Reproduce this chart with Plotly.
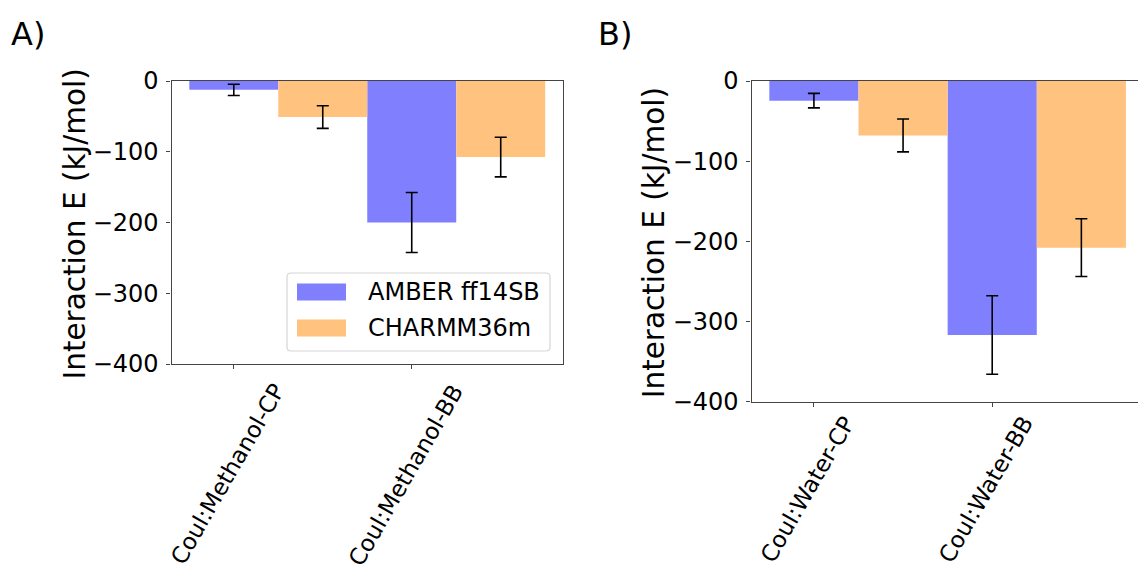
import plotly.graph_objects as go

W, H = 1138, 570

# Interaction energies (kJ/mol) and standard deviations
methanol_groups = ["Coul:Methanol-CP", "Coul:Methanol-BB"]
methanol_amber = [-12.5, -200.0]
methanol_amber_err = [8.0, 42.5]
methanol_charmm = [-51.0, -107.5]
methanol_charmm_err = [16.0, 28.0]

water_groups = ["Coul:Water-CP", "Coul:Water-BB"]
water_amber = [-24.5, -317.0]
water_amber_err = [9.0, 49.0]
water_charmm = [-68.0, -208.0]
water_charmm_err = [20.5, 36.0]

series_names = ["AMBER ff14SB", "CHARMM36m"]
y_ticks = [0, -100, -200, -300, -400]

BLUE = "#8080ff"
ORANGE = "#ffc27f"
FONT = "DejaVu Sans"
BAR_W = 0.5


def px(x):
    return x / W


def py(y):
    return 1 - y / H


fig = go.Figure()


def add_panel(groups, amber, amber_err, charmm, charmm_err, xa, ya):
    pos = list(range(len(groups)))
    fig.add_trace(go.Bar(
        x=pos, y=amber, width=BAR_W, name=series_names[0],
        marker=dict(color=BLUE, line=dict(width=0)),
        error_y=dict(type="data", array=amber_err, color="black", thickness=1.6, width=6),
        xaxis=xa, yaxis=ya, showlegend=False,
    ))
    fig.add_trace(go.Bar(
        x=[p + BAR_W for p in pos], y=charmm, width=BAR_W, name=series_names[1],
        marker=dict(color=ORANGE, line=dict(width=0)),
        error_y=dict(type="data", array=charmm_err, color="black", thickness=1.6, width=6),
        xaxis=xa, yaxis=ya, showlegend=False,
    ))


add_panel(methanol_groups, methanol_amber, methanol_amber_err,
          methanol_charmm, methanol_charmm_err, "x", "y")
add_panel(water_groups, water_amber, water_amber_err,
          water_charmm, water_charmm_err, "x2", "y2")

axis_line = dict(showline=True, linecolor="#444", linewidth=1.3, ticks="outside",
                 ticklen=4, tickwidth=1.3, tickcolor="#444", showgrid=False,
                 zeroline=False, tickfont=dict(family=FONT, size=24, color="black"))

# panel geometry in pixels
A_left, A_right, A_top, A_bottom = 171.5, 563.0, 81.0, 364.0
B_left, B_right, B_top, B_bottom = 751.5, 1138.0, 81.0, 401.5
unit_px = 178.3
B_xmax = (B_right - B_left) / unit_px - 0.35

ytext = ["0" if v == 0 else "\u2212" + str(-v) for v in y_ticks]

fig.update_layout(
    width=W, height=H, margin=dict(l=0, r=0, t=0, b=0, autoexpand=False),
    paper_bgcolor="white", plot_bgcolor="white", barmode="overlay",
    font=dict(family=FONT, color="black"),
    xaxis=dict(domain=[px(A_left), px(A_right)], range=[-0.35, 1.85], anchor="y",
               tickvals=[0, 1], showticklabels=False, mirror=True, **axis_line),
    yaxis=dict(domain=[py(A_bottom), py(A_top)], range=[-400, 0], anchor="x",
               tickvals=y_ticks, ticktext=ytext, mirror=True, ticklabelstandoff=3, **axis_line),
    xaxis2=dict(domain=[px(B_left), 1.0], range=[-0.35, B_xmax], anchor="y2",
                tickvals=[0, 1], showticklabels=False, mirror=True, **axis_line),
    yaxis2=dict(domain=[py(B_bottom), py(B_top)], range=[-400, 0], anchor="x2",
                tickvals=y_ticks, ticktext=ytext, mirror=False, ticklabelstandoff=3, **axis_line),
)

ann = []
# panel tags
ann.append(dict(text="A)", x=px(9), y=py(34), xref="paper", yref="paper",
                xanchor="left", yanchor="middle", showarrow=False,
                font=dict(family=FONT, size=32)))
ann.append(dict(text="B)", x=px(596), y=py(34), xref="paper", yref="paper",
                xanchor="left", yanchor="middle", showarrow=False,
                font=dict(family=FONT, size=32)))
# y-axis titles
for cx, top, bot in [(74, A_top, A_bottom), (654, B_top, B_bottom)]:
    ann.append(dict(text="Interaction E (kJ/mol)", x=px(cx), y=py((top + bot) / 2 + 2),
                    xref="paper", yref="paper", xanchor="center", yanchor="middle",
                    textangle=-90, showarrow=False, font=dict(family=FONT, size=29.5)))
# rotated category labels
for groups, xr, bottom, ys in [(methanol_groups, "x", A_bottom, -9),
                               (water_groups, "x2", B_bottom, -4)]:
    for i, g in enumerate(groups):
        ann.append(dict(text=g, x=i, y=py(bottom + 5), xref=xr, yref="paper",
                        xanchor="center", yanchor="top", textangle=-60, showarrow=False,
                        xshift=-6, yshift=ys, borderpad=0, font=dict(family=FONT, size=23)))

# legend for panel A
L_x0, L_x1, L_y0, L_y1, r = 287, 550, 273, 351, 4
path = (f"M {px(L_x0 + r)},{py(L_y0)} L {px(L_x1 - r)},{py(L_y0)} "
        f"Q {px(L_x1)},{py(L_y0)} {px(L_x1)},{py(L_y0 + r)} "
        f"L {px(L_x1)},{py(L_y1 - r)} Q {px(L_x1)},{py(L_y1)} {px(L_x1 - r)},{py(L_y1)} "
        f"L {px(L_x0 + r)},{py(L_y1)} Q {px(L_x0)},{py(L_y1)} {px(L_x0)},{py(L_y1 - r)} "
        f"L {px(L_x0)},{py(L_y0 + r)} Q {px(L_x0)},{py(L_y0)} {px(L_x0 + r)},{py(L_y0)} Z")
shapes = [dict(type="path", path=path, xref="paper", yref="paper",
               fillcolor="rgba(255,255,255,0.85)", line=dict(color="#d6d6d6", width=1.2))]
for name, color, cy in [(series_names[0], BLUE, 292), (series_names[1], ORANGE, 328)]:
    shapes.append(dict(type="rect", xref="paper", yref="paper",
                       x0=px(297), x1=px(346), y0=py(cy - 8.5), y1=py(cy + 8.5),
                       fillcolor=color, line=dict(width=0)))
    ann.append(dict(text=name, x=px(366), y=py(cy), xref="paper", yref="paper",
                    xanchor="left", yanchor="middle", showarrow=False,
                    font=dict(family=FONT, size=24)))

fig.update_layout(annotations=ann, shapes=shapes)
fig.write_html("out.html")
